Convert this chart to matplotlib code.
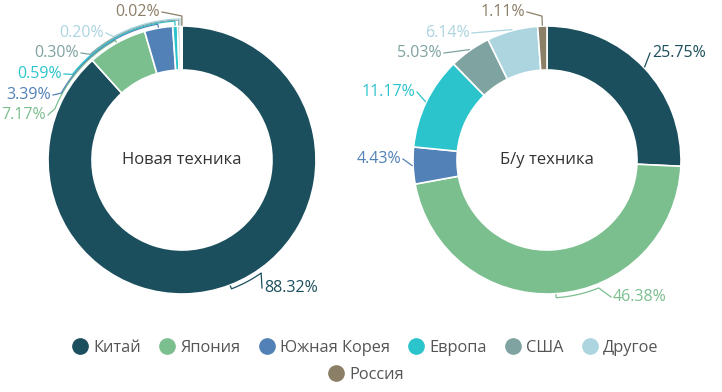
import matplotlib.pyplot as plt
import numpy as np
from matplotlib.lines import Line2D

plt.rcParams["font.family"] = ["Open Sans", "DejaVu Sans"]

countries = ["Китай", "Япония", "Южная Корея", "Европа", "США", "Другое", "Россия"]
colors = ["#1c4f5d", "#7bbf8f", "#5181b6", "#2cc4cc", "#7fa3a1", "#acd5e0", "#8c7f68"]
new_share = [88.32, 7.17, 3.39, 0.59, 0.30, 0.20, 0.02]
used_share = [25.75, 46.38, 4.43, 11.17, 5.03, 6.14, 1.11]
titles = ["Новая техника", "Б/у техника"]

W, H = 722, 392
R, RING = 134, 44

# label layout in pixels: (text x, text y, ha, leader radius offset, break angle or None)
layout_new = [
    (264, 288, "left", 4, -55),
    (46, 115, "right", 3, 158),
    (51, 95, "right", 4, 151),
    (62, 74, "right", 5, 142),
    (79, 53, "right", 6, 131),
    (104, 33, "right", 7, 119),
    (160, 12, "right", 10, None),
]
layout_used = [
    (652, 53, "left", 1, None),
    (613, 297, "left", 4, -68),
    (401, 159, "right", 1, None),
    (415, 92, "right", 1, None),
    (442, 53, "right", 1, None),
    (470, 33, "right", 1, None),
    (525, 12, "right", 10, None),
]

fig = plt.figure(figsize=(W / 100, H / 100), dpi=100)
ax = fig.add_axes([0, 0, 1, 1])

charts = [
    (new_share, (182, H - 160), titles[0], layout_new),
    (used_share, (547, H - 160), titles[1], layout_used),
]

for shares, (cx, cy), title, layout in charts:
    wedges, _ = ax.pie(shares, colors=colors, startangle=90, counterclock=False,
                       radius=R, center=(cx, cy),
                       wedgeprops=dict(width=RING, edgecolor="white", linewidth=1.2))
    ax.text(cx, cy, title, ha="center", va="center", fontsize=12, color="#333333")

    # leader lines: radial tick, arc along the ring, then on to the label
    for w, val, col, (tx, ty, ha, off, tb) in zip(wedges, shares, colors, layout):
        tm = (w.theta1 + w.theta2) / 2
        tm = (tm + 180) % 360 - 180
        if tb is None:
            tb = tm
        ang = np.radians(np.linspace(tm, tb, 40))
        xs = [cx + (R + 1) * np.cos(ang[0])] + list(cx + (R + off) * np.cos(ang))
        ys = [cy + (R + 1) * np.sin(ang[0])] + list(cy + (R + off) * np.sin(ang))
        gap = 2 if ha == "left" else -2
        xs.append(tx - gap)
        ys.append(H - ty)
        ax.plot(xs, ys, color=col, lw=0.9)
        ax.text(tx, H - ty, f"{val:.2f}%", ha=ha, va="center", fontsize=11.5, color=col)

ax.set_xlim(0, W)
ax.set_ylim(0, H)
ax.set_aspect("equal")
ax.axis("off")

handles = [Line2D([], [], marker="o", linestyle="", markersize=11, color=c) for c in colors]
leg1 = fig.legend(handles[:6], countries[:6], loc="center", bbox_to_anchor=(0.507, 1 - 348 / H),
                  ncol=6, frameon=False, fontsize=11.8, handlelength=0.8, handletextpad=0.4,
                  columnspacing=1.2, labelcolor="#555555")
leg2 = fig.legend(handles[6:], countries[6:], loc="center", bbox_to_anchor=(0.508, 1 - 375 / H),
                  ncol=1, frameon=False, fontsize=11.8, handlelength=0.8, handletextpad=0.4,
                  labelcolor="#555555")

fig.savefig("out.png", dpi=100)
